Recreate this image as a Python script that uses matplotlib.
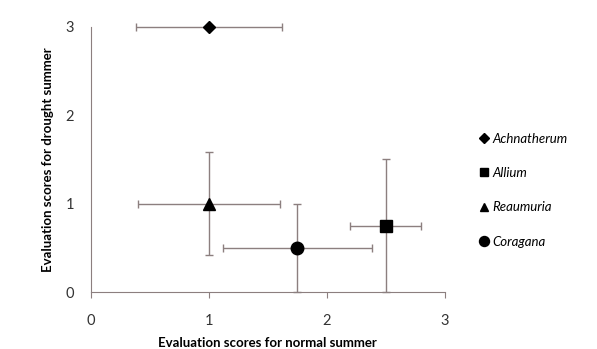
import matplotlib.pyplot as plt

plt.rcParams['font.family'] = ['Lato', 'DejaVu Sans']

# data
species = ['Achnatherum', 'Allium', 'Reaumuria', 'Coragana']
normal = [1.0, 2.5, 1.0, 1.75]
drought = [3.0, 0.75, 1.0, 0.5]
normal_err = [0.62, 0.3, 0.6, 0.63]
drought_err = [0.0, 0.75, 0.58, 0.5]
markers = ['D', 's', '^', 'o']
sizes = [6, 8, 8, 9]

err_color = '#8c7f7f'

fig = plt.figure(figsize=(5.97, 3.49), dpi=100)
ax = fig.add_axes([0.152, 0.163, 0.593, 0.76])

for i, name in enumerate(species):
    cont = ax.errorbar(normal[i], drought[i], xerr=normal_err[i], yerr=drought_err[i],
                       fmt=markers[i], color='black', ms=sizes[i], ecolor=err_color,
                       elinewidth=1, capsize=3, capthick=1, label=name)
    for art in cont.get_children():
        art.set_clip_on(False)

ax.set_xlim(0, 3)
ax.set_ylim(0, 3)
ax.set_xticks([0, 1, 2, 3])
ax.set_yticks([0, 1, 2, 3])
for s in ['top', 'right']:
    ax.spines[s].set_visible(False)
for s in ['left', 'bottom']:
    ax.spines[s].set_color(err_color)
ax.tick_params(axis='x', colors=err_color, length=4, direction='out', labelcolor='#333333',
               labelsize=10.5, pad=12)
ax.tick_params(axis='y', length=0, labelcolor='#333333', labelsize=10.5, pad=12)

ax.set_xlabel('Evaluation scores for normal summer', fontweight='bold', fontsize=9.5, labelpad=6)
ax.set_ylabel('Evaluation scores for drought summer', fontweight='bold', fontsize=9.5, labelpad=8)

handles, labels = ax.get_legend_handles_labels()
handles = [h[0] for h in handles]
leg = fig.legend(handles, labels, loc='center left', bbox_to_anchor=(0.785, 0.455),
                 frameon=False, handlelength=0.6, handletextpad=0.3, labelspacing=1.7,
                 markerscale=0.8, prop={'style': 'italic', 'size': 9.5})

fig.savefig('out.png', dpi=100)
